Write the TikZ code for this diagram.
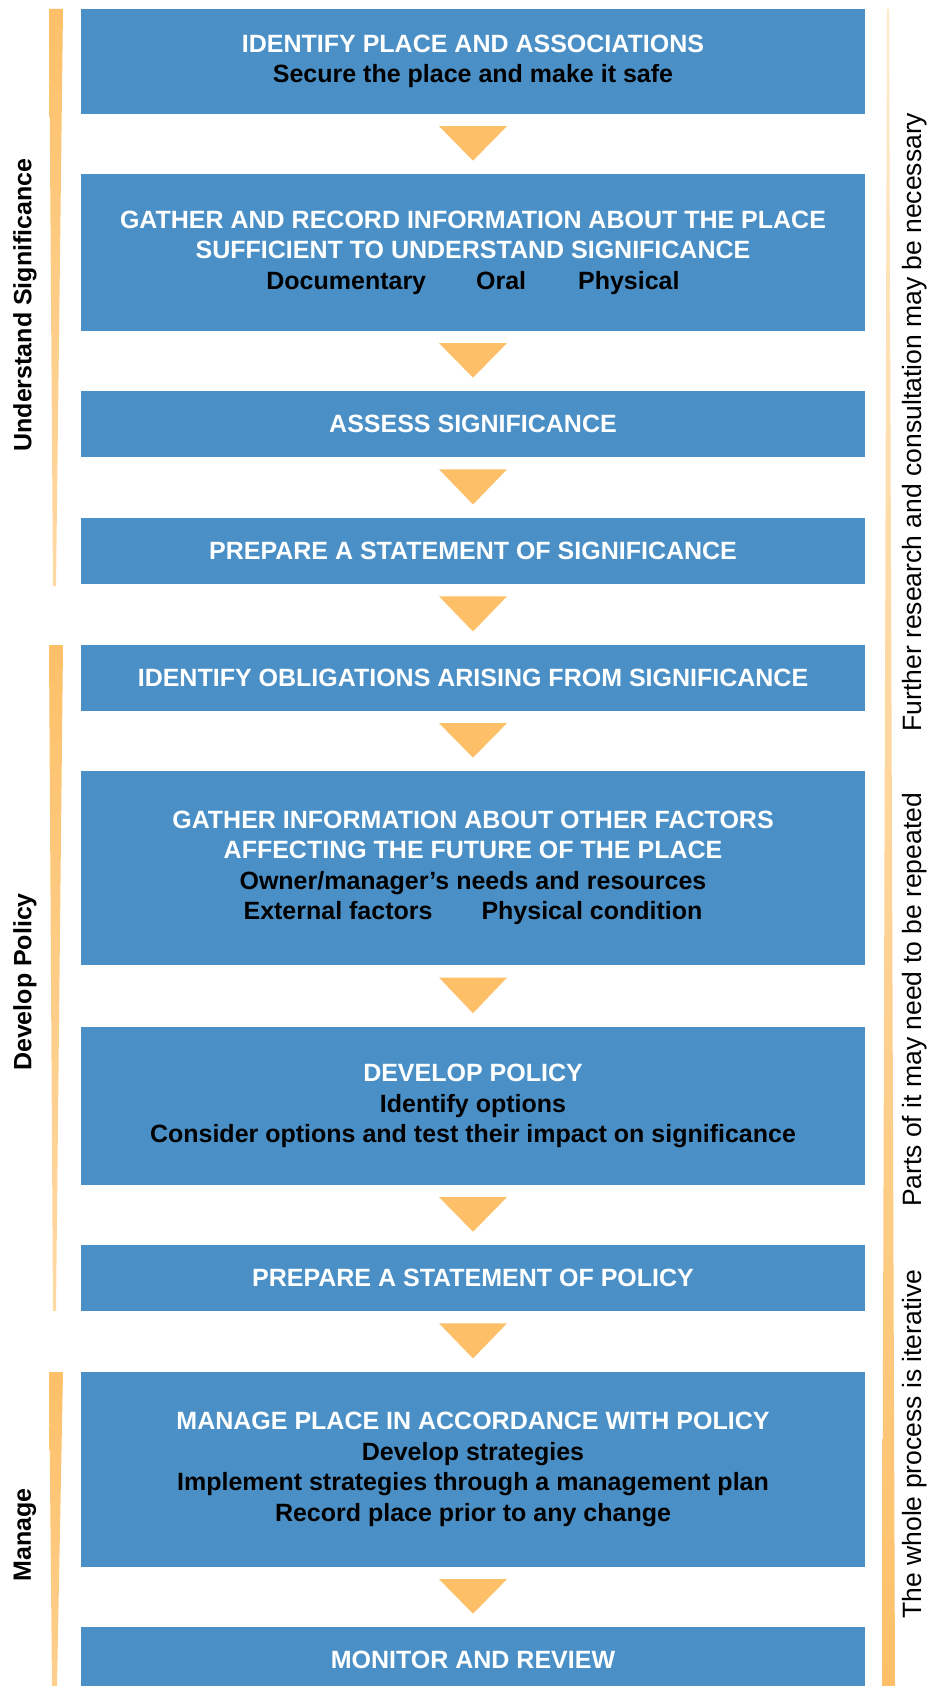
\documentclass[tikz,border=0pt]{standalone}
\usepackage{fontspec}
\setmainfont{Liberation Sans}
\usetikzlibrary{calc}
\definecolor{stageblue}{RGB}{74,144,199}
\definecolor{flowamber}{RGB}{253,192,104}
\newcommand{\headline}[1]{\textcolor{white}{#1}}
\tikzset{
    stage/.style={fill=stageblue, minimum width=784pt, inner sep=0pt, align=center,
        font=\fontsize{25}{30.5}\selectfont\bfseries, text=black},
    phase/.style={rotate=90, inner sep=0pt, font=\fontsize{25}{30}\selectfont\bfseries},
    remark/.style={rotate=90, inner sep=0pt, font=\fontsize{26.5}{30}\selectfont},
}
\begin{document}
\begin{tikzpicture}[x=1pt, y=-1pt]
        \useasboundingbox (0, 0) rectangle (930, 1686);
        % phase bars
        \shade[top color=flowamber, bottom color=flowamber!60] (49, 9) -- (63, 9) -- (56, 586) -- (53, 586) -- cycle;
        \shade[top color=flowamber, bottom color=flowamber!60] (49, 645) -- (63, 645) -- (56, 1311) -- (53, 1311) -- cycle;
        \shade[top color=flowamber, bottom color=flowamber!75] (49, 1372) -- (63, 1372) -- (57, 1686) -- (52, 1686) -- cycle;
        \shade[top color=flowamber!35, bottom color=flowamber] (887, 9) -- (889, 9) -- (895, 1686) -- (882, 1686) -- cycle;
        % stages
        \node[stage, minimum height=105pt, name=identify] at (473, 61.5)
            {\headline{IDENTIFY PLACE AND ASSOCIATIONS}\\ Secure the place and make it safe};
        \node[stage, minimum height=157pt, name=gather_info] at (473, 252.5)
            {\headline{GATHER AND RECORD INFORMATION ABOUT THE PLACE}\\
             \headline{SUFFICIENT TO UNDERSTAND SIGNIFICANCE}\\
             Documentary\hspace{50pt}Oral\hspace{52pt}Physical};
        \node[stage, minimum height=66pt, name=assess] at (473, 424) {\headline{ASSESS SIGNIFICANCE}};
        \node[stage, minimum height=66pt, name=sig_statement] at (473, 551) {\headline{PREPARE A STATEMENT OF SIGNIFICANCE}};
        \node[stage, minimum height=66pt, name=obligations] at (473, 678) {\headline{IDENTIFY OBLIGATIONS ARISING FROM SIGNIFICANCE}};
        \node[stage, minimum height=194pt, name=gather_factors] at (473, 868)
            {\headline{GATHER INFORMATION ABOUT OTHER FACTORS}\\
             \headline{AFFECTING THE FUTURE OF THE PLACE}\\
             Owner/manager’s needs and resources\\
             External factors\hspace{49pt}Physical condition};
        \node[stage, minimum height=158pt, name=policy] at (473, 1106)
            {\headline{DEVELOP POLICY}\\ Identify options\\
             Consider options and test their impact on significance};
        \node[stage, minimum height=66pt, name=policy_statement] at (473, 1278) {\headline{PREPARE A STATEMENT OF POLICY}};
        \node[stage, minimum height=195pt, name=manage] at (473, 1469.5)
            {\headline{MANAGE PLACE IN ACCORDANCE WITH POLICY}\\ Develop strategies\\
             Implement strategies through a management plan\\
             Record place prior to any change};
        \node[stage, minimum height=66pt, name=monitor] at (473, 1660) {\headline{MONITOR AND REVIEW}};
        % flow arrows
        \foreach \src/\dst in {identify/gather_info, gather_info/assess, assess/sig_statement,
                sig_statement/obligations, obligations/gather_factors, gather_factors/policy,
                policy/policy_statement, policy_statement/manage, manage/monitor} {
            \fill[flowamber] ($(\src.south)!0.2!(\dst.north)$) ++(-34, 0) -- ++(68, 0)
                -- ($(\src.south)!0.78!(\dst.north)$) -- cycle;
        }
        % side labels
        \node[phase, name=understand_label] at (25, 305) {Understand Significance};
        \node[phase, name=develop_label] at (25, 982) {Develop Policy};
        \node[phase, name=manage_label] at (25, 1535) {Manage};
        \node[remark, name=further_note] at (915, 422) {Further research and consultation may be necessary};
        \node[remark, name=repeat_note] at (915, 1000) {Parts of it may need to be repeated};
        \node[remark, name=iterative_note] at (915, 1444) {The whole process is iterative};
    \end{tikzpicture}
\end{document}
